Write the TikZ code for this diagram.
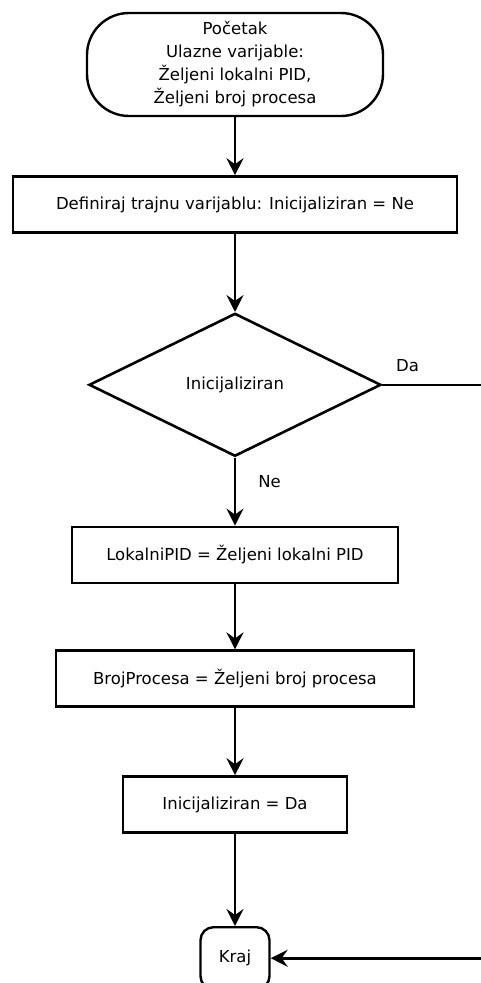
\documentclass[tikz,border=0pt]{standalone}
\usepackage{fontspec}
\setmainfont{DejaVu Sans}
\usetikzlibrary{positioning}
\usetikzlibrary{shapes.geometric}
\usetikzlibrary{arrows.meta}

\tikzset{
  terminal/.style={draw, line width=2.4pt, rounded corners=#1, inner sep=0pt, align=center},
  process/.style={draw, line width=2.8pt, inner sep=0pt, minimum height=56pt},
  decision/.style={draw, diamond, line width=2.6pt, inner sep=0pt, minimum width=292pt, minimum height=143pt},
  flow/.style={line width=2.6pt, -{Stealth[length=17pt,width=17pt,inset=6pt]}},
  flowlabel/.style={inner sep=0pt},
}

\begin{document}
\begin{tikzpicture}[x=1pt,y=-1pt,font=\fontsize{16.5}{23}\selectfont, node distance=60pt]
        \useasboundingbox (0,0) rectangle (480,983);
        % Nodes
        \node[terminal=42pt, minimum width=296pt, minimum height=103pt] (start) at (235,64.5)
            {Početak\\Ulazne varijable:\\Željeni lokalni PID,\\Željeni broj procesa};
        \node[process, minimum width=444pt, below=58pt of start]  (define) {Definiraj trajnu varijablu: Inicijaliziran = Ne};
        \node[decision, below=78pt of define]  (check) {Inicijaliziran};
        \node[process, minimum width=326pt, below=68pt of check]  (pid) {LokalniPID = Željeni lokalni PID};
        \node[process, minimum width=358pt, below=65pt of pid]  (count) {BrojProcesa = Željeni broj procesa};
        \node[process, minimum width=224pt, below=67pt of count]  (init) {Inicijaliziran = Da};
        \node[terminal=13pt, minimum width=69pt, minimum height=62pt, below=92pt of init]  (stop) {Kraj};
        \coordinate (loop) at ([xshift=115pt]check.east);
        % Edges
        \draw[flow] (start) -- (define);
        \draw[flow] (define) -- (check);
        \draw[flow] (check) -- node[flowlabel, pos=0.36, right=22pt] {Ne} (pid);
        \draw[flow] (pid) -- (count);
        \draw[flow] (count) -- (init);
        \draw[flow] (init) -- (stop);
        \draw[line width=2.6pt] (check.east) -- node[flowlabel, pos=0.22, above=12pt] {Da} (loop);
        \draw[flow] (loop) |- (stop.east);
    \end{tikzpicture}
\end{document}
